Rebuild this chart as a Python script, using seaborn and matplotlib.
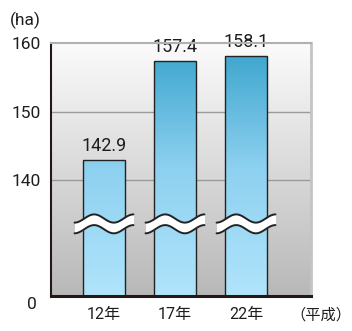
import numpy as np
import matplotlib
matplotlib.use('Agg')
import matplotlib.pyplot as plt
import seaborn as sns
import pandas as pd
from matplotlib.colors import LinearSegmentedColormap

# ---- data ----
categories = ['12年', '17年', '22年']
values = [142.9, 157.4, 158.1]
ytick_values = [140, 150, 160]
ytick_labels = ['140', '150', '160']
zero_label = '0'
unit_label = '(ha)'
x_unit_label = '（平成）'
axis_floor = 123.07      # value shown at the (broken) zero line
break_center = 133.6     # where the wavy break sits

sns.set_theme(style='white')
plt.rcParams['font.family'] = ['Roboto', 'Noto Sans CJK JP', 'DejaVu Sans']

TXT = '#1e1e1e'
fig = plt.figure(figsize=(3.52, 3.31), dpi=100)
ax = fig.add_axes([51/352, 35/331, 260/352, 253/331])

df = pd.DataFrame({'year': categories, 'area': values})
sns.barplot(data=df, x='year', y='area', ax=ax, width=0.59, color='#7cc8e8',
            edgecolor='#222222', linewidth=1.0, zorder=3)

xlim = (-0.746, 2.915)
ylim = (axis_floor, 160)
ax.set_xlim(*xlim)
ax.set_ylim(*ylim)

# background gradient
bg_cmap = LinearSegmentedColormap.from_list('bg', ['#b8b8b8', '#fbfbfb'])
grad = np.linspace(0, 1, 256).reshape(-1, 1)
ax.imshow(grad, cmap=bg_cmap, aspect='auto', origin='lower',
          extent=[xlim[0], xlim[1], ylim[0], ylim[1]], zorder=0)

# bar gradients
bar_cmap = LinearSegmentedColormap.from_list('bar', ['#b0e4fb', '#8ed1f0', '#38a3cc'])
for p in ax.patches:
    p.set_facecolor('none')
    im = ax.imshow(grad, cmap=bar_cmap, aspect='auto', origin='lower',
                   extent=[xlim[0], xlim[1], ylim[0], ylim[1]], zorder=2)
    im.set_clip_path(p)

# gridlines
for v in ytick_values[:-1]:
    ax.axhline(v, color='#9a9a9a', lw=1.0, zorder=1)

# wavy breaks
hw = 0.415
amp = 0.6
half_t = 0.78
for i in range(len(categories)):
    xs = i + np.linspace(-hw, hw, 80)
    u = (xs - xs[0]) / (2 * hw)
    mid = break_center - amp * np.cos(3 * np.pi * u)
    top = mid + half_t
    bot = mid - half_t
    ax.fill_between(xs, bot, top, color='white', zorder=4, lw=0)
    ax.plot(xs, top, color='#222222', lw=1.4, zorder=5)
    ax.plot(xs, bot, color='#222222', lw=1.4, zorder=5)

# value labels
for i, v in enumerate(values):
    ax.annotate(f'{v:.1f}', (i, v), xytext=(0, 3.5), textcoords='offset points',
                ha='center', va='bottom', fontsize=13, color=TXT, zorder=6,
                annotation_clip=False)

# spines
for s in ['left', 'bottom']:
    ax.spines[s].set_color('#231815')
ax.spines['left'].set_linewidth(1.5)
ax.spines['bottom'].set_linewidth(2.2)
ax.spines['top'].set_color('#b0b0b0')
ax.spines['top'].set_linewidth(1.5)
ax.spines['right'].set_color('#c4c4c4')
ax.spines['right'].set_linewidth(2.0)
for s in ax.spines.values():
    s.set_zorder(7)

ax.set_yticks(ytick_values)
ax.set_yticklabels(ytick_labels)
ax.tick_params(axis='y', length=0, pad=7, labelsize=12.5, colors=TXT)
ax.tick_params(axis='x', length=0, pad=8, labelsize=11.5, colors=TXT)
ax.set_xlabel('')
ax.set_ylabel('')

ax.annotate(zero_label, (0, axis_floor), xycoords=('axes fraction', 'data'),
            xytext=(-10, -1), textcoords='offset points', ha='right', va='top',
            fontsize=12.5, color=TXT, annotation_clip=False)
fig.text(25/352, 1 - 20/331, unit_label, ha='center', va='center', fontsize=12.5, color=TXT)
fig.text(321/352, 1 - 315/331, x_unit_label, ha='center', va='center', fontsize=11,
         color=TXT, family=['Noto Sans CJK JP', 'DejaVu Sans'])

fig.savefig('out.png', dpi=100)
